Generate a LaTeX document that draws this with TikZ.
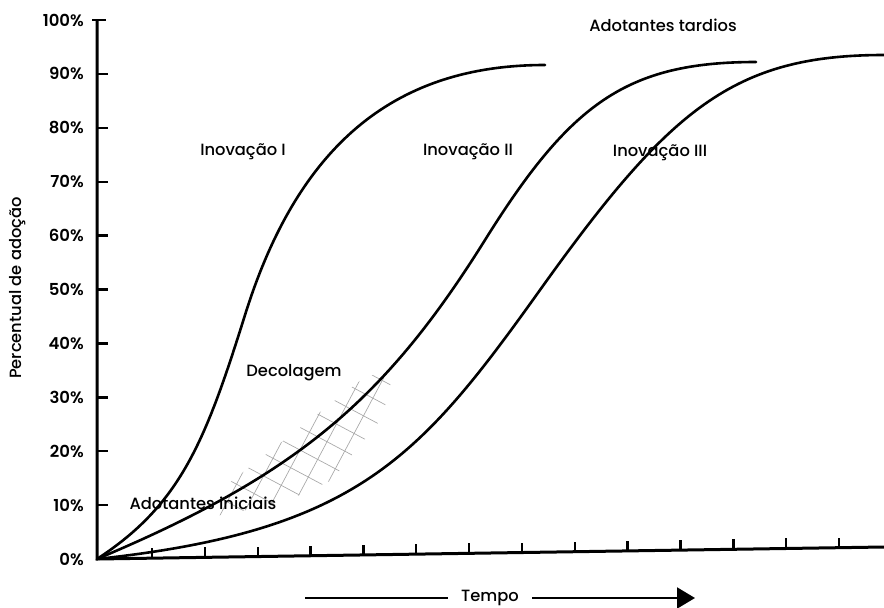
\documentclass[tikz,border=0pt]{standalone}
\usepackage{fontspec}
\setmainfont{Poppins}
\newfontfamily\medfont{Poppins Medium}
\newfontfamily\semifont{Poppins SemiBold}
\usetikzlibrary{arrows.meta}
\begin{document}
\begin{tikzpicture}[x=1pt,y=-1pt,
  curve/.style={line width=2.6pt, line cap=round},
  axis/.style={line width=3pt},
  tickmark/.style={line width=2.4pt},
  ticklabel/.style={anchor=east, font=\fontsize{16.5}{19}\semifont, inner sep=0pt},
  lbl/.style={font=\fontsize{16.3}{19}\medfont, inner sep=0pt},
  hatch/.style={draw=gray!70, line width=0.65pt}]
\useasboundingbox (0,0) rectangle (884,608);
\fill[white] (0,0) rectangle (884,608);

% hatch band
\begin{scope}
  \clip (216,516) -- (228,484) -- (365,377) -- (394,370) -- (382,418) -- (332,480) -- (282,503) -- cycle;
  \begin{scope}[shift={(300,450)}, rotate=62]
    \foreach \i in {-8,...,8} {
      \draw[hatch] (\i*20,-170) -- (\i*20,170);
      \draw[hatch] (-170,\i*20) -- (170,\i*20);
    }
  \end{scope}
\end{scope}

% axes
\coordinate (O) at (97,559);
\coordinate (ytop) at (97,20);
\coordinate (xend) at (884,547);
\draw[axis] (ytop) -- (O) -- (xend);
\draw[tickmark] (92,20) -- (106,20);
\foreach \k in {0,...,10} {
  \pgfmathsetmacro\yy{559-53.9*\k}
  \pgfmathtruncatemacro\v{10*\k}
  \ifnum\k>0 \ifnum\k<10 \draw[tickmark] (97,\yy) -- (108,\yy); \fi\fi
  \node[ticklabel] (yl\k) at (84,\yy) {\v\%};
}
\foreach \k in {0,...,13} {
  \pgfmathsetmacro\xx{152+52.85*\k}
  \pgfmathsetmacro\ya{559-12*(\xx-97)/787}
  \draw[tickmark] (\xx,\ya) -- (\xx,\ya-10);
}

% curves
\draw[curve] (O) .. controls (180,505) and (205,443) .. (245,315)
                 .. controls (300,139) and (400,65) .. (545,65);
\draw[curve] (O) .. controls (297,475) and (385,400) .. (485,240)
                 .. controls (570,104) and (626,62) .. (756,62);
\draw[curve] (O) .. controls (357,531) and (420,458) .. (540,290)
                 .. controls (670,108) and (734,55) .. (884,55);

% labels
\node[lbl] (i1) at (243,152) {Inovação I};
\node[lbl] (i2) at (468,152) {Inovação II};
\node[lbl] (i3) at (660,153) {Inovação III};
\node[lbl] (tard) at (663,25) {Adotantes tardios};
\node[lbl] (deco) at (294,373) {Decolagem};
\node[lbl] (inic) at (203,503) {Adotantes iniciais};
\node[lbl, rotate=90] (ylab) at (18,288) {Percentual de adoção};

% time arrow
\coordinate (tl) at (305,598);
\coordinate (tr) at (695,598);
\node[lbl, inner xsep=13pt] (tempo) at (490,598) {Tempo};
\draw[line width=2.2pt] (tl) -- (tempo.west);
\draw[line width=2.2pt, -{Triangle[length=18pt,width=21pt]}] (tempo.east) -- (tr);
\end{tikzpicture}
\end{document}
